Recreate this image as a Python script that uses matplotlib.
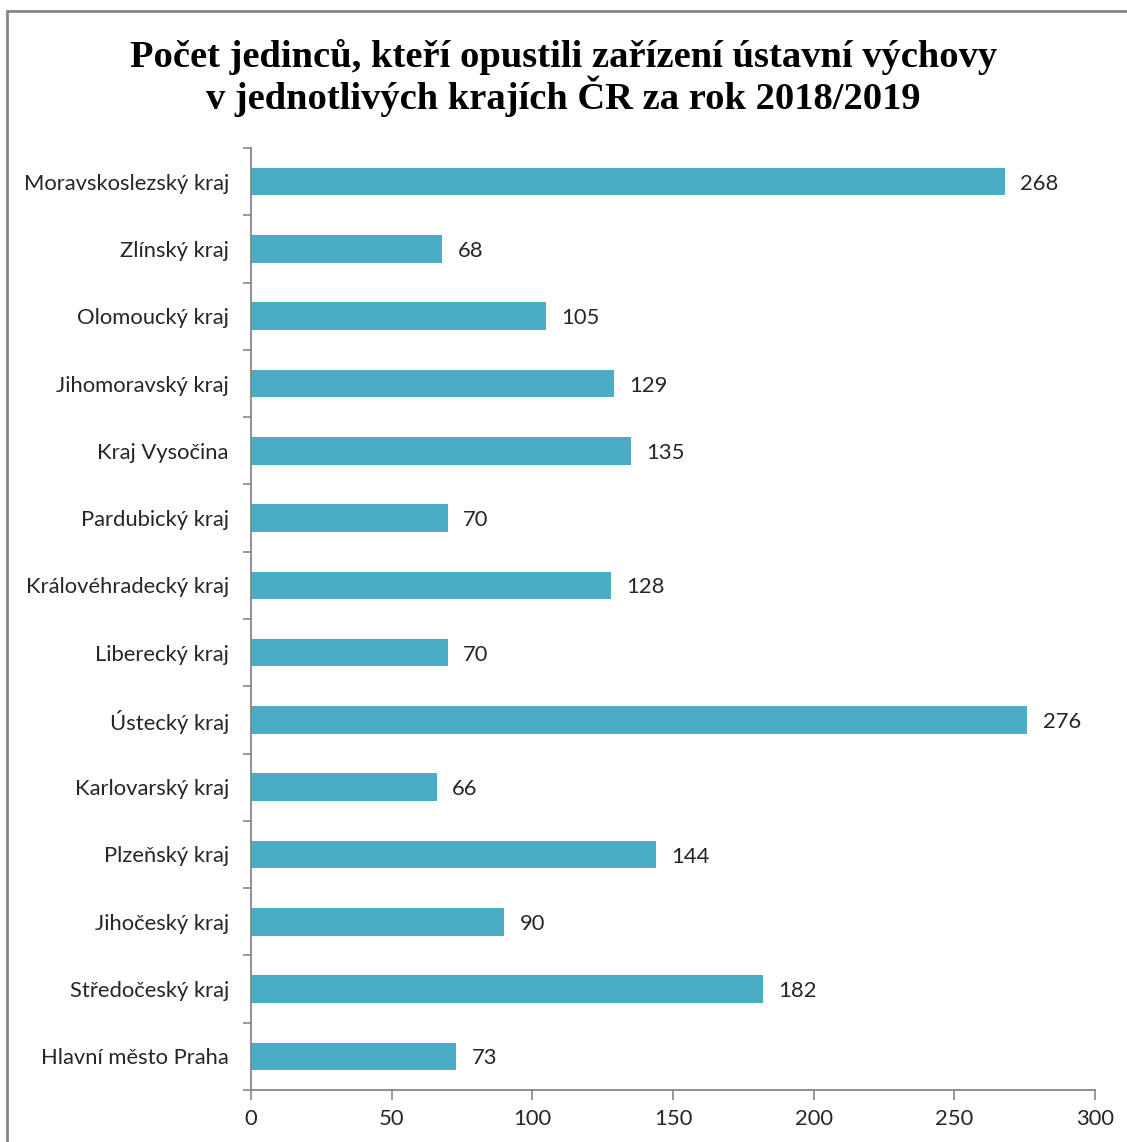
import matplotlib.pyplot as plt
import numpy as np
from matplotlib.patches import Rectangle

regions = ['Hlavní město Praha', 'Středočeský kraj', 'Jihočeský kraj', 'Plzeňský kraj',
           'Karlovarský kraj', 'Ústecký kraj', 'Liberecký kraj', 'Královéhradecký kraj',
           'Pardubický kraj', 'Kraj Vysočina', 'Jihomoravský kraj', 'Olomoucký kraj',
           'Zlínský kraj', 'Moravskoslezský kraj']
counts = [73, 182, 90, 144, 66, 276, 70, 128, 70, 135, 129, 105, 68, 268]
xticks = [0, 50, 100, 150, 200, 250, 300]

title = 'Počet jedinců, kteří opustili zařízení ústavní výchovy\nv jednotlivých krajích ČR za rok 2018/2019'

bar_color = '#4BACC6'
axis_color = '#868686'
text_color = '#262626'
label_font = 'Lato'
fs = 15.8

fig = plt.figure(figsize=(11.27, 11.42), dpi=100)
ax = fig.add_axes([251 / 1127, 1 - 1090 / 1142, (1095 - 251) / 1127, (1090 - 148) / 1142])

y = np.arange(len(regions))
ax.barh(y, counts, height=0.41, color=bar_color)

for yi, v in zip(y, counts):
    ax.annotate(str(v), (v, yi), xytext=(11, -1.5), textcoords='offset points',
                va='center', ha='left', fontsize=fs, family=label_font, color=text_color)

ax.set_xlim(0, 300)
ax.set_ylim(-0.5, len(regions) - 0.5)
ax.set_xticks(xticks)
ax.set_xticklabels([str(t) for t in xticks], fontsize=fs, family=label_font, color=text_color)
ax.set_yticks(y)
ax.set_yticklabels(regions, fontsize=fs, family=label_font, color=text_color)
ax.set_yticks(np.arange(-0.5, len(regions), 1), minor=True)

ax.tick_params(axis='y', which='major', length=0, pad=16)
ax.tick_params(axis='y', which='minor', length=6, color=axis_color, width=1.2)
ax.tick_params(axis='x', which='major', length=7, color=axis_color, width=1.2, pad=7)

for s in ['top', 'right']:
    ax.spines[s].set_visible(False)
for s in ['left', 'bottom']:
    ax.spines[s].set_color(axis_color)
    ax.spines[s].set_linewidth(1.3)

fig.text(0.5, 1 - 78 / 1142, title, ha='center', va='center', fontsize=27.7,
         family='Liberation Serif', fontweight='bold', linespacing=1.02)

# chart border (cut off on right and bottom)
fig.patches.append(Rectangle((7 / 1127, -0.05), 1.2, 1 - 11 / 1142 + 0.05,
                             transform=fig.transFigure, fill=False,
                             edgecolor=axis_color, linewidth=2))

fig.savefig('out.png', dpi=100)
